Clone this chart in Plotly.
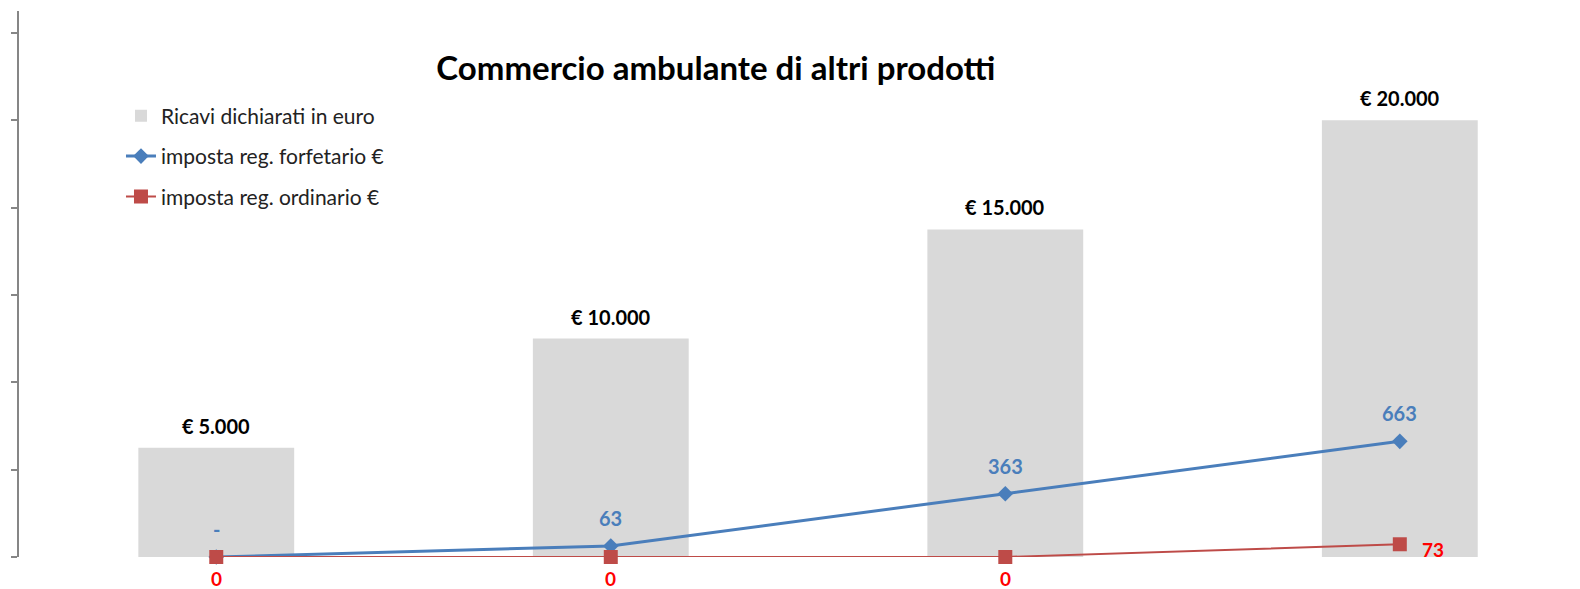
import plotly.graph_objects as go

categories = ['Ricavi 5.000', 'Ricavi 10.000', 'Ricavi 15.000', 'Ricavi 20.000']
ricavi = [5000, 10000, 15000, 20000]
forfetario = [0, 63, 363, 663]
ordinario = [0, 0, 0, 73]

FONT = 'Lato'
BLUE = '#4A7EBB'
RED = '#BE4B48'


def fmt_euro(v):
    return '€ ' + f'{v:,}'.replace(',', '.')


def fmt_acct(v):
    return '-' if v == 0 else str(v)


fig = go.Figure()

fig.add_trace(go.Bar(
    x=categories, y=ricavi,
    name='Ricavi dichiarati in euro',
    marker=dict(color='#D9D9D9', line=dict(width=0)),
    width=0.395,
    legendgroup='a',
))
fig.add_trace(go.Scatter(
    x=categories, y=forfetario,
    name='imposta reg. forfetario €',
    mode='lines+markers',
    line=dict(color=BLUE, width=3),
    marker=dict(symbol='diamond', size=12, color=BLUE),
    yaxis='y2', legendgroup='b', cliponaxis=False,
))
fig.add_trace(go.Scatter(
    x=categories, y=ordinario,
    name='imposta reg. ordinario €',
    mode='lines+markers',
    line=dict(color=RED, width=2),
    marker=dict(symbol='square', size=14, color=RED),
    yaxis='y2', legendgroup='c', cliponaxis=False,
))

annotations = []
for i, v in enumerate(ricavi):
    annotations.append(dict(x=i, y=v, xref='x', yref='y', text=fmt_euro(v),
                            showarrow=False, yshift=22,
                            font=dict(family=FONT, size=20, color='black', weight='bold')))
for i, v in enumerate(forfetario):
    annotations.append(dict(x=i, y=v, xref='x', yref='y2', text=fmt_acct(v),
                            showarrow=False, yshift=28,
                            font=dict(family=FONT, size=20, color=BLUE, weight='bold')))
for i, v in enumerate(ordinario):
    if v == 0:
        annotations.append(dict(x=i, y=v, xref='x', yref='y2', text=str(v),
                                showarrow=False, yshift=-21,
                                font=dict(family=FONT, size=19, color='#FF0000', weight='bold')))
    else:
        annotations.append(dict(x=i, y=v, xref='x', yref='y2', text=str(v),
                                showarrow=False, xshift=33, yshift=-5,
                                font=dict(family=FONT, size=19, color='#FF0000', weight='bold')))

# the page body keeps an 8px margin, so the plot box is shifted to compensate
fig.update_layout(
    width=1580, height=589,
    margin=dict(l=11, r=0, t=3, b=40),
    paper_bgcolor='white', plot_bgcolor='white',
    title=dict(text='<b>Commercio ambulante di altri prodotti</b>',
               x=0.448, xanchor='center', y=0.898, yanchor='middle',
               font=dict(family=FONT, size=33, color='black')),
    showlegend=True,
    legend=dict(x=0.065, y=0.845, xanchor='left', yanchor='top',
                bgcolor='rgba(0,0,0,0)', tracegroupgap=10,
                font=dict(family=FONT, size=21, color='#222222')),
    annotations=annotations,
    xaxis=dict(type='category', range=[-0.5, 3.477], showticklabels=False,
               showline=False, showgrid=False, zeroline=False, ticks=''),
    yaxis=dict(range=[0, 25000], dtick=4000, showticklabels=False,
               showgrid=False, zeroline=False, showline=True,
               linecolor='#868686', linewidth=2, ticks='outside',
               ticklen=6, tickcolor='#868686', tickwidth=2),
    yaxis2=dict(range=[0, 3130], overlaying='y', side='right', visible=False),
)

fig.write_html('out.html')
